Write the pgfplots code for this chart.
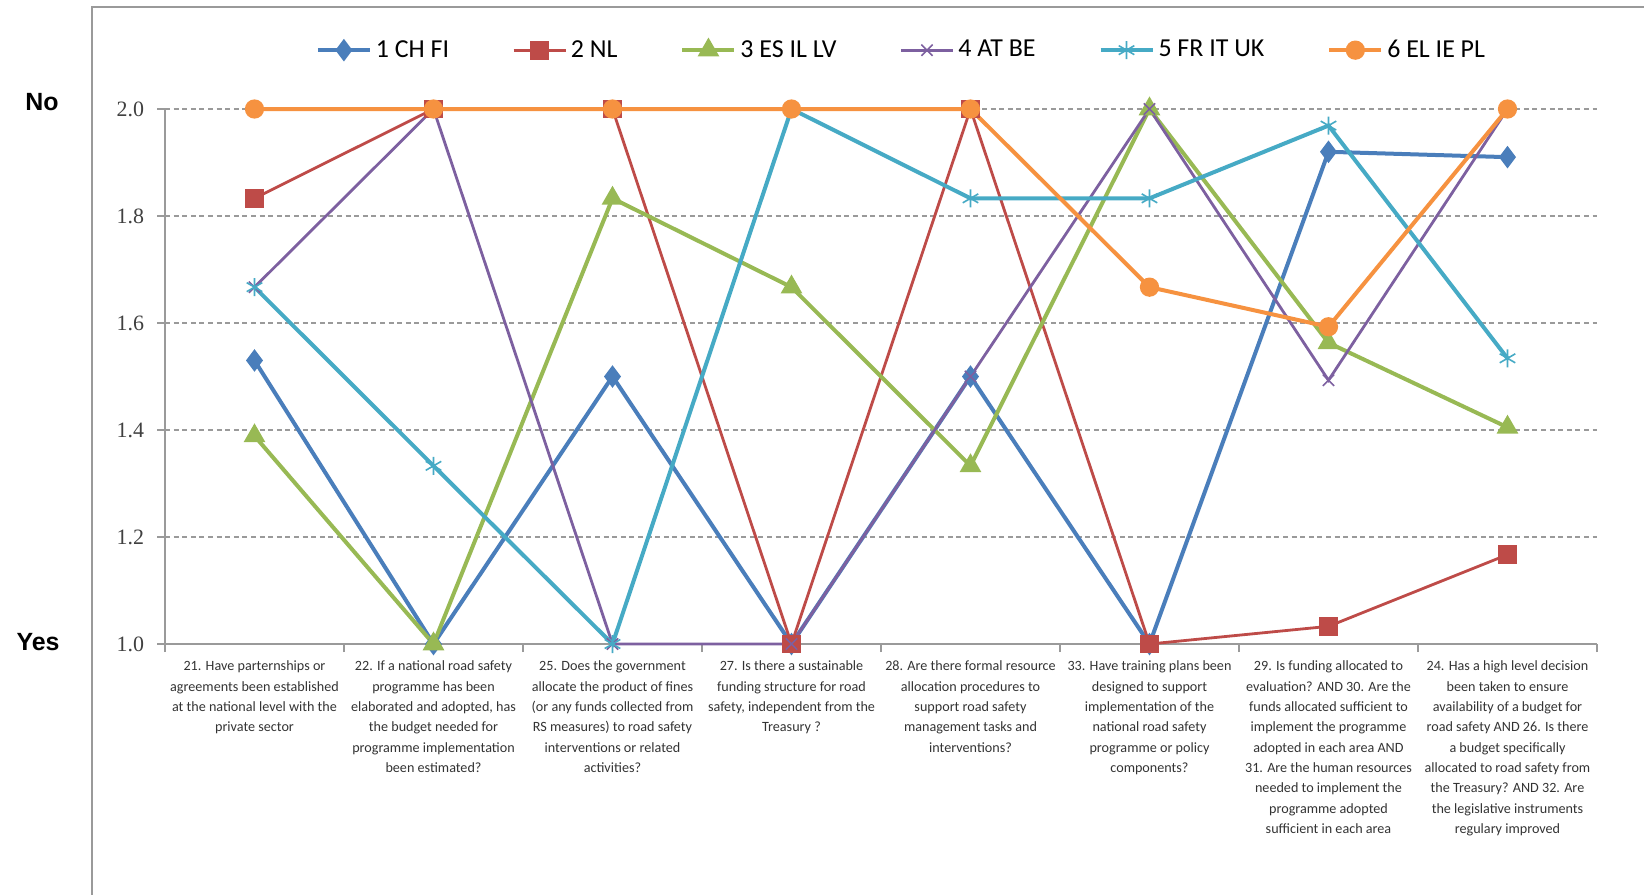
\documentclass[border=0pt]{standalone}
\usepackage{pgfplots}
\pgfplotsset{compat=1.18}
\usepackage{fontspec}
\setmainfont{Carlito}
\newfontfamily\serifnum{Liberation Serif}
\newfontfamily\arialf{Liberation Sans}
\definecolor{c1}{HTML}{4A7EBB}
\definecolor{c2}{HTML}{BE4B48}
\definecolor{c3}{HTML}{98B954}
\definecolor{c4}{HTML}{7D60A0}
\definecolor{c5}{HTML}{46AAC5}
\definecolor{c6}{HTML}{F69240}
\definecolor{axgray}{HTML}{9A9A9A}
\begin{document}
\begin{tikzpicture}
\draw[axgray, line width=0.9bp] (46bp,-460bp) -- (46bp,-3.5bp) -- (840bp,-3.5bp);
\node[font=\arialf\bfseries\fontsize{12.5}{12.5}\selectfont] at (21bp,-51bp) {No};
\node[font=\arialf\bfseries\fontsize{12.5}{12.5}\selectfont] at (19bp,-321bp) {Yes};
\begin{axis}[
  at={(82.5bp,-322bp)}, anchor=south west,
  scale only axis, width=716bp, height=267.5bp,
  xmin=0.5, xmax=8.5, ymin=1, ymax=2,
  clip=false,
  axis x line*=bottom, axis y line*=left,
  axis line style={draw=axgray, line width=0.8bp, -},
  tick align=outside,
  xtick={1,2,3,4,5,6,7,8},
  major x tick style={draw=none},
  minor xtick={0.5,1.5,2.5,3.5,4.5,5.5,6.5,7.5,8.5},
  minor tick length=4bp,
  major tick length=4bp,
  every tick/.style={axgray, line width=0.8bp},
  xticklabel style={align=center, anchor=north, font=\fontsize{7.1}{10.2}\selectfont, text=black!80, yshift=-1bp},
  xticklabels={
    {21. Have parternships or\\agreements been established\\at the national level with the\\private sector},
    {22. If a national road safety\\programme has been\\elaborated and adopted, has\\the budget needed for\\programme implementation\\been estimated?},
    {25. Does the government\\allocate the product of fines\\(or any funds collected from\\RS measures) to road safety\\interventions or related\\activities?},
    {27. Is there a sustainable\\funding structure for road\\safety, independent from the\\Treasury ?},
    {28. Are there formal resource\\allocation procedures to\\support road safety\\management tasks and\\interventions?},
    {33. Have training plans been\\designed to support\\implementation of the\\national road safety\\programme or policy\\components?},
    {29. Is funding allocated to\\evaluation? AND 30. Are the\\funds allocated sufficient to\\implement the programme\\adopted in each area AND\\31. Are the human resources\\needed to implement the\\programme adopted\\sufficient in each area},
    {24. Has a high level decision\\been taken to ensure\\availability of a budget for\\road safety AND 26. Is there\\a budget specifically\\allocated to road safety from\\the Treasury? AND 32. Are\\the legislative instruments\\regulary improved}
  },
  ytick={1,1.2,1.4,1.6,1.8,2},
  yticklabel style={font=\serifnum\fontsize{11}{11}\selectfont, text=black!75, xshift=-3bp},
  /pgf/number format/.cd, fixed, fixed zerofill, precision=1, assume math mode=true,
  /pgfplots/.cd,
  ymajorgrids,
  grid style={axgray, line width=0.7bp, dash pattern=on 2.5bp off 1.8bp},
  legend columns=6,
  legend style={draw=none, fill=none, at={(0.515,1.11)}, anchor=center,
    font=\fontsize{13}{13}\selectfont,
    /tikz/every even column/.append style={column sep=29.5bp}},
  legend image code/.code={\draw[mark repeat=2,mark phase=2] plot coordinates {(0bp,0bp) (13bp,0bp) (26bp,0bp)};},
]
\addplot[c1, line width=2bp, mark=diamond*, mark size=4bp, mark options={solid}] coordinates {(1,1.53)(2,1)(3,1.5)(4,1)(5,1.5)(6,1)(7,1.92)(8,1.91)};
\addlegendentry{1 CH FI}
\addplot[c2, line width=1.4bp, mark=square*, mark size=4bp, mark options={solid}] coordinates {(1,1.833)(2,2)(3,2)(4,1)(5,2)(6,1)(7,1.033)(8,1.167)};
\addlegendentry{2 NL}
\addplot[c3, line width=2bp, mark=triangle*, mark size=4.3bp, mark options={solid}] coordinates {(1,1.389)(2,1)(3,1.833)(4,1.667)(5,1.333)(6,2)(7,1.563)(8,1.405)};
\addlegendentry{3 ES IL LV}
\addplot[c4, line width=1.4bp, mark=x, mark size=4bp, mark options={solid, line width=0.8bp}] coordinates {(1,1.667)(2,2)(3,1)(4,1)(5,1.5)(6,2)(7,1.493)(8,2)};
\addlegendentry{4 AT BE}
\addplot[c5, line width=2bp, mark=asterisk, mark size=4.5bp, mark options={solid, line width=0.8bp}] coordinates {(1,1.667)(2,1.333)(3,1)(4,2)(5,1.833)(6,1.833)(7,1.969)(8,1.534)};
\addlegendentry{5 FR IT UK}
\addplot[c6, line width=2bp, mark=*, mark size=3.8bp, mark options={solid}] coordinates {(1,2)(2,2)(3,2)(4,2)(5,2)(6,1.667)(7,1.593)(8,2)};
\addlegendentry{6 EL IE PL}
\end{axis}
\pgfresetboundingbox
\useasboundingbox (0bp,0bp) rectangle (822bp,-447.5bp);
\end{tikzpicture}
\end{document}
